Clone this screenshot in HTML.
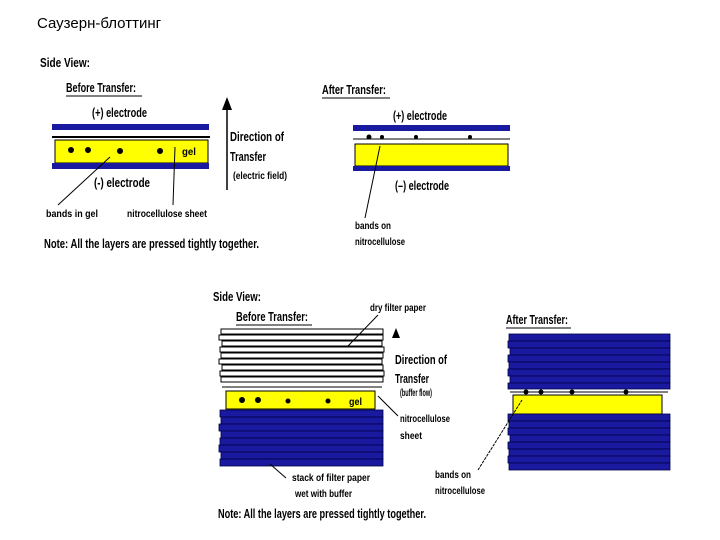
<!DOCTYPE html>
<html><head><meta charset="utf-8"><style>
html,body{margin:0;padding:0;background:#fff}
svg{display:block}
text{font-family:"Liberation Sans",sans-serif;fill:#000}
.t{font-size:13px;font-weight:bold}
.s{font-size:10.5px;font-weight:bold}
</style></head><body>
<svg width="720" height="540" xmlns="http://www.w3.org/2000/svg">
<text x="37" y="28" style="font-size:15px">Саузерн-блоттинг</text>

<!-- top-left -->
<text class="t" x="40" y="67" textLength="50" lengthAdjust="spacingAndGlyphs">Side View:</text>
<text class="t" x="66" y="92" textLength="70" lengthAdjust="spacingAndGlyphs">Before Transfer:</text>
<line x1="66" y1="96" x2="142" y2="96" stroke="#000" stroke-width="1"/>
<text class="t" x="92" y="117" textLength="55" lengthAdjust="spacingAndGlyphs">(+) electrode</text>
<rect x="52" y="124" width="157" height="6" fill="#1a1aa0"/>
<line x1="52" y1="137" x2="210" y2="137" stroke="#000" stroke-width="2"/>
<rect x="55" y="140" width="153" height="23" fill="#ffff00" stroke="#000"/>
<rect x="52" y="163" width="157" height="6" fill="#1a1aa0"/>
<g fill="#000"><circle cx="71" cy="150" r="3"/><circle cx="88" cy="150" r="3"/><circle cx="120" cy="151" r="3"/><circle cx="160" cy="151" r="3"/></g>
<text class="s" x="182" y="155" textLength="14" lengthAdjust="spacingAndGlyphs">gel</text>
<text class="t" x="94" y="187" textLength="56" lengthAdjust="spacingAndGlyphs">(-) electrode</text>
<line x1="58" y1="205" x2="110" y2="157" stroke="#000"/>
<line x1="173" y1="205" x2="175" y2="147" stroke="#000"/>
<text class="s" x="46" y="217" textLength="52" lengthAdjust="spacingAndGlyphs">bands in gel</text>
<text class="s" x="127" y="217" textLength="80" lengthAdjust="spacingAndGlyphs">nitrocellulose sheet</text>
<line x1="227" y1="190" x2="227" y2="108" stroke="#000" stroke-width="1.5"/>
<polygon points="227,97 222,110 232,110" fill="#000"/>
<text class="t" x="230" y="141" textLength="54" lengthAdjust="spacingAndGlyphs">Direction of</text>
<text class="t" x="230" y="161" textLength="36" lengthAdjust="spacingAndGlyphs">Transfer</text>
<text class="s" x="233" y="179" textLength="54" lengthAdjust="spacingAndGlyphs">(electric field)</text>
<text class="t" x="44" y="248" textLength="215" lengthAdjust="spacingAndGlyphs">Note: All the layers are pressed tightly together.</text>

<!-- top-right -->
<text class="t" x="322" y="94" textLength="64" lengthAdjust="spacingAndGlyphs">After Transfer:</text>
<line x1="322" y1="98" x2="390" y2="98" stroke="#000"/>
<text class="t" x="393" y="120" textLength="54" lengthAdjust="spacingAndGlyphs">(+) electrode</text>
<rect x="353" y="125" width="157" height="6" fill="#1a1aa0"/>
<line x1="353" y1="139" x2="510" y2="139" stroke="#000" stroke-width="1"/>
<g fill="#000"><circle cx="369" cy="137" r="2.5"/><circle cx="382" cy="137" r="2"/><circle cx="416" cy="137" r="2"/><circle cx="470" cy="137" r="2"/></g>
<rect x="355" y="144" width="153" height="22" fill="#ffff00" stroke="#000"/>
<rect x="353" y="166" width="157" height="5" fill="#1a1aa0"/>
<text class="t" x="395" y="190" textLength="54" lengthAdjust="spacingAndGlyphs">(–) electrode</text>
<line x1="380" y1="146" x2="365" y2="218" stroke="#000"/>
<text class="s" x="355" y="229" textLength="36" lengthAdjust="spacingAndGlyphs">bands on</text>
<text class="s" x="355" y="245" textLength="50" lengthAdjust="spacingAndGlyphs">nitrocellulose</text>

<!-- bottom middle -->
<text class="t" x="213" y="301" textLength="48" lengthAdjust="spacingAndGlyphs">Side View:</text>
<text class="t" x="236" y="321" textLength="72" lengthAdjust="spacingAndGlyphs">Before Transfer:</text>
<line x1="236" y1="325" x2="312" y2="325" stroke="#000"/>
<g fill="#fff" stroke="#000" stroke-width="1">
<rect x="221" y="329" width="162" height="5"/><rect x="219" y="335" width="164" height="5"/>
<rect x="222" y="341" width="160" height="5"/><rect x="220" y="347" width="164" height="5"/>
<rect x="221" y="353" width="162" height="5"/><rect x="219" y="359" width="163" height="5"/>
<rect x="222" y="365" width="161" height="5"/><rect x="220" y="371" width="164" height="5"/>
<rect x="221" y="377" width="162" height="5"/>
</g>
<line x1="222" y1="387" x2="382" y2="387" stroke="#000"/>
<rect x="226" y="391" width="149" height="18" fill="#ffff00" stroke="#000"/>
<g fill="#000"><circle cx="242" cy="400" r="3"/><circle cx="258" cy="400" r="3"/><circle cx="288" cy="401" r="2.5"/><circle cx="328" cy="401" r="2.5"/></g>
<text class="s" x="349" y="405" textLength="13" lengthAdjust="spacingAndGlyphs">gel</text>
<g fill="#1a1aa0" stroke="#000044" stroke-width="0.8">
<rect x="220" y="410" width="163" height="7"/><rect x="221" y="417" width="162" height="7"/>
<rect x="219" y="424" width="164" height="7"/><rect x="221" y="431" width="162" height="7"/>
<rect x="220" y="438" width="163" height="7"/><rect x="219" y="445" width="164" height="7"/>
<rect x="221" y="452" width="162" height="7"/><rect x="220" y="459" width="163" height="7"/>
</g>
<text class="s" x="370" y="311" textLength="56" lengthAdjust="spacingAndGlyphs">dry filter paper</text>
<line x1="348" y1="346" x2="378" y2="315" stroke="#000"/>
<polygon points="396,328 392,338 400,338" fill="#000"/>
<text class="t" x="395" y="364" textLength="52" lengthAdjust="spacingAndGlyphs">Direction of</text>
<text class="t" x="395" y="383" textLength="34" lengthAdjust="spacingAndGlyphs">Transfer</text>
<text class="s" x="400" y="396" textLength="32" lengthAdjust="spacingAndGlyphs">(buffer flow)</text>
<line x1="378" y1="396" x2="398" y2="416" stroke="#000"/>
<text class="s" x="400" y="422" textLength="50" lengthAdjust="spacingAndGlyphs">nitrocellulose</text>
<text class="s" x="400" y="439" textLength="22" lengthAdjust="spacingAndGlyphs">sheet</text>
<line x1="270" y1="464" x2="286" y2="478" stroke="#000"/>
<text class="s" x="292" y="481" textLength="78" lengthAdjust="spacingAndGlyphs">stack of filter paper</text>
<text class="s" x="295" y="497" textLength="57" lengthAdjust="spacingAndGlyphs">wet with buffer</text>
<text class="t" x="218" y="518" textLength="208" lengthAdjust="spacingAndGlyphs">Note: All the layers are pressed tightly together.</text>

<!-- bottom right -->
<text class="t" x="506" y="324" textLength="62" lengthAdjust="spacingAndGlyphs">After Transfer:</text>
<line x1="506" y1="328" x2="571" y2="328" stroke="#000"/>
<g fill="#1a1aa0" stroke="#000044" stroke-width="0.8">
<rect x="509" y="334" width="161" height="7"/><rect x="508" y="341" width="162" height="7"/>
<rect x="510" y="348" width="160" height="7"/><rect x="508" y="355" width="162" height="7"/>
<rect x="509" y="362" width="161" height="7"/><rect x="508" y="369" width="162" height="7"/>
<rect x="510" y="376" width="160" height="7"/><rect x="508" y="383" width="162" height="6"/>
</g>
<line x1="510" y1="392" x2="668" y2="392" stroke="#000"/>
<g fill="#000"><circle cx="526" cy="392" r="2.5"/><circle cx="541" cy="392" r="2.5"/><circle cx="572" cy="392" r="2.5"/><circle cx="626" cy="392" r="2.5"/></g>
<rect x="513" y="395" width="149" height="19" fill="#ffff00" stroke="#000"/>
<g fill="#1a1aa0" stroke="#000044" stroke-width="0.8">
<rect x="508" y="414" width="162" height="7"/><rect x="509" y="421" width="161" height="7"/>
<rect x="508" y="428" width="162" height="7"/><rect x="510" y="435" width="160" height="7"/>
<rect x="508" y="442" width="162" height="7"/><rect x="509" y="449" width="161" height="7"/>
<rect x="508" y="456" width="162" height="7"/><rect x="509" y="463" width="161" height="7"/>
</g>
<line x1="478" y1="470" x2="522" y2="400" stroke="#000" stroke-dasharray="3,1"/>
<text class="s" x="435" y="478" textLength="36" lengthAdjust="spacingAndGlyphs">bands on</text>
<text class="s" x="435" y="494" textLength="50" lengthAdjust="spacingAndGlyphs">nitrocellulose</text>
</svg>
</body></html>
